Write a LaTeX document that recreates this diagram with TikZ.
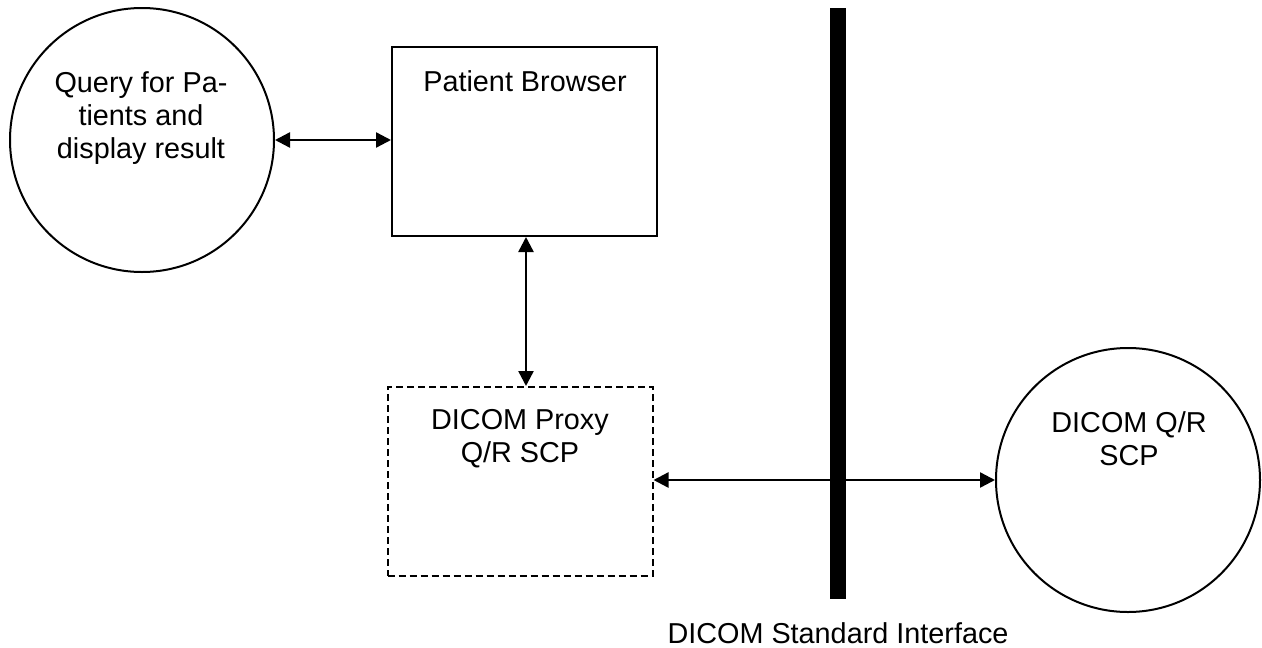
\documentclass[tikz,border=0pt]{standalone}
\usepackage{fontspec}
\setmainfont{Liberation Sans}
\usetikzlibrary{arrows.meta}
\begin{document}
\begin{tikzpicture}[x=1pt,y=-1pt,
  lbl/.style={font=\fontsize{28.8}{33}\selectfont, align=center, inner sep=0pt, anchor=north},
  circ/.style={draw, circle, line width=2pt, minimum size=264pt, inner sep=0pt},
  boxsolid/.style={draw, rectangle, line width=2pt, minimum width=265pt, minimum height=189pt, inner sep=0pt},
  boxdash/.style={boxsolid, dash pattern=on 7pt off 4pt},
  conn/.style={line width=2.4pt, {Triangle[length=15pt,width=15pt]}-{Triangle[length=15pt,width=15pt]}}
]
\useasboundingbox (0,0) rectangle (1262,648);
\node[circ] (c1) at (142,140) {};
\node[lbl] (t1) at (141,71) {Query for Pa-\\tients and\\display result};
\node[boxsolid] (pb) at (524.5,141.5) {};
\node[lbl] (t2) at (525,70) {Patient Browser};
\node[boxdash] (px) at (520,481.5) {};
\node[lbl] (t3) at (520,409) {DICOM Proxy\\Q/R SCP};
\node[circ] (qr) at (1128,480) {};
\node[lbl] (t4) at (1129,411) {DICOM Q/R\\SCP};
\node[fill=black, minimum width=16pt, minimum height=591pt, inner sep=0pt] (bar) at (838,303.5) {};
\node[lbl] (t5) at (838,622) {DICOM Standard Interface};
\draw[conn] (c1.east) -- (c1.east -| pb.west);
\draw[conn] (pb.south -| 526,0) -- (px.north -| 526,0);
\draw[conn] (px.east |- qr.west) -- (qr.west);
\end{tikzpicture}
\end{document}
